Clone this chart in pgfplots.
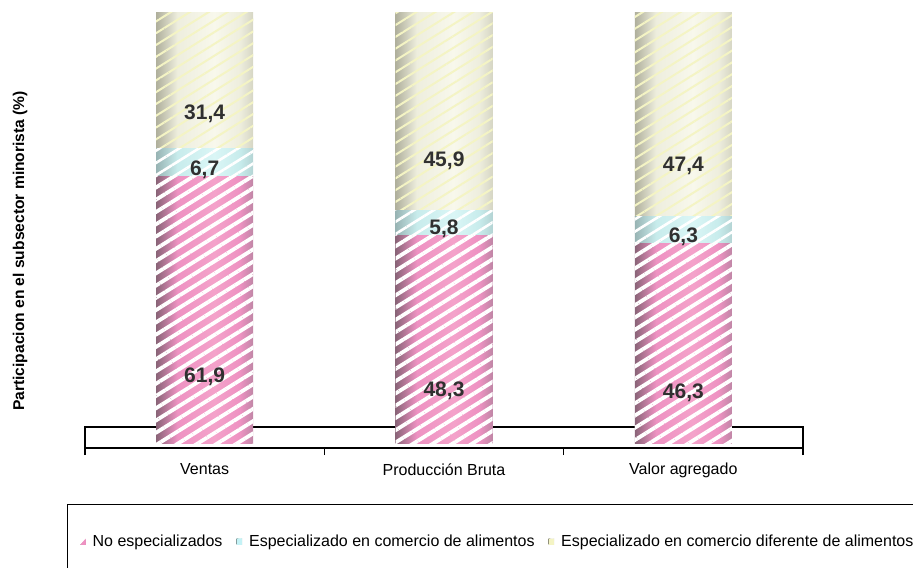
\documentclass[border=0pt]{standalone}
\usepackage{pgfplots}
\pgfplotsset{compat=1.18}
\usepackage{fontspec}
\setmainfont{Liberation Sans}
\usetikzlibrary{patterns.meta}

\definecolor{pinkdk}{HTML}{8A6478}
\definecolor{pinkmd}{HTML}{EE92C2}
\definecolor{pinklt}{HTML}{F4A2CA}
\definecolor{pinkrt}{HTML}{C086A6}
\definecolor{cyandk}{HTML}{98B4B4}
\definecolor{cyanmd}{HTML}{C8ECEC}
\definecolor{cyanlt}{HTML}{DAF6F6}
\definecolor{cyanrt}{HTML}{B4D4D4}
\definecolor{creamdk}{HTML}{B0B09C}
\definecolor{creammd}{HTML}{EEEEDE}
\definecolor{creamlt}{HTML}{F8F8EC}
\definecolor{creamrt}{HTML}{D6D6C4}
\definecolor{creamhatch}{HTML}{F4F4C4}
\definecolor{cyankey}{HTML}{C4F2F6}
\definecolor{labelgray}{HTML}{303030}

% cylinder-like horizontal shadings (25bp = left edge, 75bp = right edge)
\pgfdeclarehorizontalshading{pinkcyl}{100bp}{color(0bp)=(pinkdk); color(25bp)=(pinkdk);
  color(36bp)=(pinkmd); color(55bp)=(pinklt); color(68bp)=(pinkmd); color(75bp)=(pinkrt); color(100bp)=(pinkrt)}
\pgfdeclarehorizontalshading{cyancyl}{100bp}{color(0bp)=(cyandk); color(25bp)=(cyandk);
  color(36bp)=(cyanmd); color(55bp)=(cyanlt); color(68bp)=(cyanmd); color(75bp)=(cyanrt); color(100bp)=(cyanrt)}
\pgfdeclarehorizontalshading{creamcyl}{100bp}{color(0bp)=(creamdk); color(25bp)=(creamdk);
  color(36bp)=(creammd); color(55bp)=(creamlt); color(68bp)=(creammd); color(75bp)=(creamrt); color(100bp)=(creamrt)}

\pgfplotsset{
  frame/.style={scale only axis, width=359pt, height=217.5pt,
    xmin=-0.5, xmax=2.5, ymin=-1.163, ymax=100, clip=false},
  cyl/.style={frame, hide axis, ybar stacked, bar width=48.5pt,
    nodes near coords={\pgfmathprintnumber[fixed, fixed zerofill, precision=1, use comma, assume math mode=true]{\pgfplotspointmeta}},
    visualization depends on=rawy \as \rawy,
    % the node style is applied twice, so a quarter gives half a segment
    every node near coord/.style={anchor=center,
        shift={(axis direction cs:0,-\rawy/4)},
        fill opacity=1, text opacity=1,
        font=\bfseries\fontsize{10.5}{12}\selectfont, text=labelgray}},
  pinkbar/.style={draw=none,
    preaction={shade, shading=pinkcyl, fill opacity=1},
    pattern={Lines[angle=32,distance=5.2pt,line width=1.9pt]}, pattern color=white, fill opacity=0.75,
    legend image code/.code={\fill[pinkmd, fill opacity=1] (0pt,-1.5pt) -- (2.6pt,1.5pt) -- (2.6pt,-1.5pt) -- cycle;}},
  cyanbar/.style={draw=none,
    preaction={shade, shading=cyancyl, fill opacity=1},
    pattern={Lines[angle=32,distance=5.2pt,line width=1.3pt]}, pattern color=white, fill opacity=0.35,
    legend image code/.code={\fill[cyankey, fill opacity=1] (0pt,-1.5pt) rectangle (2.8pt,1.5pt);}},
  creambar/.style={draw=none,
    preaction={shade, shading=creamcyl, fill opacity=1},
    pattern={Lines[angle=32,distance=5pt,line width=1pt]}, pattern color=creamhatch, fill opacity=0.35,
    legend image code/.code={\fill[creamhatch, fill opacity=1] (0pt,-1.5pt) rectangle (2.8pt,1.5pt);}},
}

\begin{document}
\begin{tikzpicture}
% frame: floor, x axis, labels
\begin{axis}[frame,
    axis x line=bottom, axis y line=left,
    x axis line style={-, line width=0.75pt},
    y axis line style={draw=none},
    ytick=\empty,
    xtick={0,1,2},
    xticklabels={Ventas, Producción Bruta, Valor agregado},
    major tick length=0pt,
    minor xtick={-0.5,0.5,1.5,2.5},
    minor tick length=3.5pt,
    tick align=outside,
    minor tick style={black, line width=0.75pt},
    xticklabel style={font=\fontsize{8}{9.6}\selectfont, inner sep=0pt, yshift=-7.5pt},
    ylabel={Participacion en el subsector minorista (\%)},
    ylabel style={at={(axis description cs:-0.0905,0.453)}, anchor=center,
        font=\bfseries\fontsize{7.8}{9}\selectfont},
]
\draw[line width=0.75pt] (axis cs:-0.5,-1.163) -- (axis cs:-0.5,3.7) -- (axis cs:2.5,3.7) -- (axis cs:2.5,-1.163);
\end{axis}

% Ventas
\begin{axis}[cyl,
    legend columns=3,
    legend cell align=left,
    legend style={at={(axis description cs:-0.0251,-0.1287)}, anchor=north west,
        draw=black, line width=0.5pt, inner xsep=6.5pt, inner ysep=14pt,
        font=\fontsize{8}{9.6}\selectfont, nodes={inner sep=1pt},
        /tikz/every even column/.append style={column sep=6pt},
        /tikz/every odd column/.append style={column sep=2.5pt}},
]
\addplot[pinkbar] coordinates {(0,61.9)};
\addlegendentry{No especializados}
\addplot[cyanbar] coordinates {(0,6.7)};
\addlegendentry{Especializado en comercio de alimentos}
\addplot[creambar] coordinates {(0,31.4)};
\addlegendentry{Especializado en comercio diferente de alimentos}
\end{axis}

% Producción Bruta
\begin{axis}[cyl]
\addplot[pinkbar] coordinates {(1,48.3)};
\addplot[cyanbar] coordinates {(1,5.8)};
\addplot[creambar] coordinates {(1,45.9)};
\end{axis}

% Valor agregado
\begin{axis}[cyl]
\addplot[pinkbar] coordinates {(2,46.3)};
\addplot[cyanbar] coordinates {(2,6.3)};
\addplot[creambar] coordinates {(2,47.4)};
\end{axis}

\pgfresetboundingbox
\useasboundingbox (-42.5pt,-59.5pt) rectangle (414pt,224pt);
\end{tikzpicture}
\end{document}
